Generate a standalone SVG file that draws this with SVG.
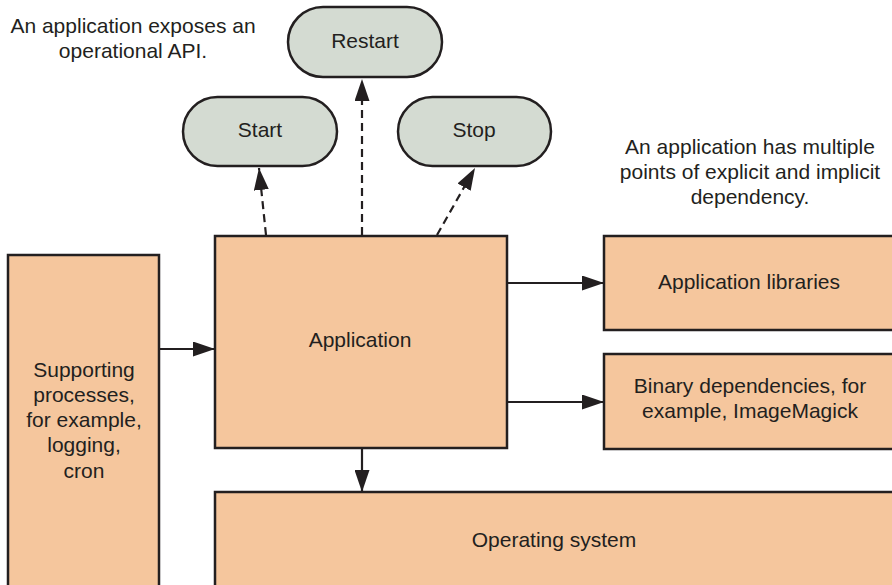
<svg xmlns="http://www.w3.org/2000/svg" width="892" height="585" viewBox="0 0 892 585">
<style>
.box{fill:#f5c69d;stroke:#231f20;stroke-width:2.5}
.pill{fill:#d4dbd2;stroke:#231f20;stroke-width:2.5}
text{font-family:"Liberation Sans",Arial,sans-serif;font-size:21px;fill:#231f20;text-anchor:middle}
.conn{stroke:#231f20;stroke-width:2.2;fill:none}
.dash{stroke-dasharray:8 5}
</style>
<defs>
<marker id="ah" markerUnits="userSpaceOnUse" markerWidth="22" markerHeight="15" refX="22" refY="7.5" orient="auto">
<path d="M0,0 L22,7.5 L0,15 z" fill="#231f20" stroke="none"/>
</marker>
</defs>
<rect width="892" height="585" fill="#ffffff"/>
<g id="note-left">
<text x="133" y="33">An application exposes an</text>
<text x="133" y="58">operational API.</text>
</g>
<g id="note-right">
<text x="750" y="154">An application has multiple</text>
<text x="750" y="179">points of explicit and implicit</text>
<text x="750" y="204">dependency.</text>
</g>
<g id="restart">
<rect class="pill" x="288" y="7" width="154" height="70" rx="35"/>
<text x="365" y="48">Restart</text>
</g>
<g id="start">
<rect class="pill" x="183" y="97" width="154" height="69" rx="34.5"/>
<text x="260" y="137">Start</text>
</g>
<g id="stop">
<rect class="pill" x="398" y="97" width="153" height="69" rx="34.5"/>
<text x="474" y="137">Stop</text>
</g>
<g id="supporting">
<rect class="box" x="8" y="255" width="151" height="345"/>
<text x="84" y="377">Supporting</text>
<text x="84" y="402">processes,</text>
<text x="84" y="427">for example,</text>
<text x="84" y="452">logging,</text>
<text x="84" y="478">cron</text>
</g>
<g id="application">
<rect class="box" x="215" y="236" width="292" height="212"/>
<text x="360" y="347">Application</text>
</g>
<g id="libraries">
<rect class="box" x="604" y="236" width="300" height="94"/>
<text x="749" y="289">Application libraries</text>
</g>
<g id="binary">
<rect class="box" x="604" y="354" width="300" height="95"/>
<text x="750" y="393">Binary dependencies, for</text>
<text x="750" y="418">example, ImageMagick</text>
</g>
<g id="os">
<rect class="box" x="215" y="492" width="690" height="110"/>
<text x="554" y="547">Operating system</text>
</g>
<g id="connectors">
<line class="conn" x1="159" y1="349" x2="215" y2="349" marker-end="url(#ah)"/>
<line class="conn" x1="507" y1="283" x2="604" y2="283" marker-end="url(#ah)"/>
<line class="conn" x1="507" y1="402" x2="604" y2="402" marker-end="url(#ah)"/>
<line class="conn" x1="362" y1="448" x2="362" y2="492" marker-end="url(#ah)"/>
<line class="conn dash" x1="362" y1="235" x2="362" y2="79" marker-end="url(#ah)"/>
<line class="conn dash" x1="266" y1="235" x2="259" y2="168" marker-end="url(#ah)"/>
<line class="conn dash" x1="437" y1="235" x2="475" y2="168" marker-end="url(#ah)"/>
</g>
</svg>
